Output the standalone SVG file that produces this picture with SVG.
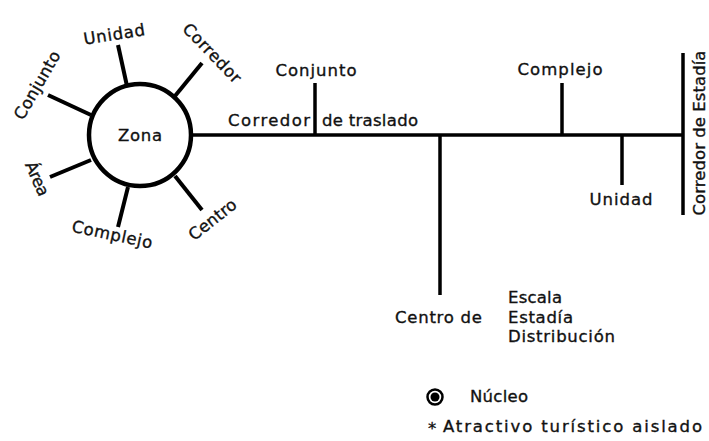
<svg xmlns="http://www.w3.org/2000/svg" width="709" height="441" viewBox="0 0 709 441">
<style>
text{font-family:"DejaVu Sans","Liberation Sans",sans-serif;font-size:16.5px;fill:#111;stroke:#111;stroke-width:0.35;}
.l{stroke:#000;stroke-width:4;fill:none;stroke-linecap:butt;}
.m{stroke:#000;stroke-width:3.5;fill:none;}
</style>
<rect width="709" height="441" fill="#fff"/>
<g id="connectors">
<line class="l" x1="118" y1="45" x2="127" y2="86"/>
<line class="l" x1="202" y1="63" x2="175" y2="96"/>
<line class="l" x1="48" y1="95" x2="91" y2="115"/>
<line class="l" x1="50" y1="177" x2="91" y2="160"/>
<line class="l" x1="128" y1="187" x2="118" y2="227"/>
<line class="l" x1="175" y1="176" x2="202" y2="210"/>
<line class="m" x1="192" y1="135" x2="683" y2="135"/>
<line class="m" x1="315" y1="83" x2="315" y2="135"/>
<line class="m" x1="440" y1="135" x2="440" y2="295"/>
<line class="m" x1="562" y1="83" x2="562" y2="135"/>
<line class="m" x1="622" y1="135" x2="622" y2="185"/>
<line class="m" x1="683" y1="53" x2="683" y2="215"/>
</g>
<g id="zona">
<circle cx="140" cy="135" r="51" fill="#fff" stroke="#000" stroke-width="4.5"/>
<text x="140" y="141" text-anchor="middle" textLength="44">Zona</text>
</g>
<g id="radial-labels">
<text transform="translate(115,40) rotate(-9)" text-anchor="middle" textLength="62">Unidad</text>
<text transform="translate(208,57) rotate(46)" text-anchor="middle" textLength="76">Corredor</text>
<text transform="translate(42,88) rotate(-60)" text-anchor="middle" textLength="76">Conjunto</text>
<text transform="translate(32,181) rotate(66)" text-anchor="middle" textLength="36">Área</text>
<text transform="translate(111,240) rotate(12)" text-anchor="middle" textLength="82">Complejo</text>
<text transform="translate(216,224) rotate(-38)" text-anchor="middle" textLength="56">Centro</text>
</g>
<g id="corredor-traslado">
<text x="228" y="126" textLength="82">Corredor</text>
<text x="322" y="126" textLength="96">de traslado</text>
</g>
<g id="conjunto"><text x="316" y="76" text-anchor="middle" textLength="81">Conjunto</text></g>
<g id="complejo"><text x="560" y="75" text-anchor="middle" textLength="85">Complejo</text></g>
<g id="unidad"><text x="621" y="205" text-anchor="middle" textLength="63">Unidad</text></g>
<g id="corredor-estadia"><text transform="translate(705,133) rotate(-90)" text-anchor="middle" textLength="165">Corredor de Estadía</text></g>
<g id="centro-de">
<text x="395" y="323" textLength="87">Centro de</text>
<text x="508" y="303" textLength="54">Escala</text>
<text x="508" y="323" textLength="65">Estadía</text>
<text x="508" y="342" textLength="107">Distribución</text>
</g>
<g id="legend">
<circle cx="435" cy="397" r="7.5" fill="none" stroke="#000" stroke-width="2.5"/>
<circle cx="435" cy="397" r="4.5" fill="#000"/>
<text x="470" y="402" textLength="58">Núcleo</text>
<text x="428" y="434">*</text>
<text x="443" y="432" textLength="259">Atractivo turístico aislado</text>
</g>
</svg>
